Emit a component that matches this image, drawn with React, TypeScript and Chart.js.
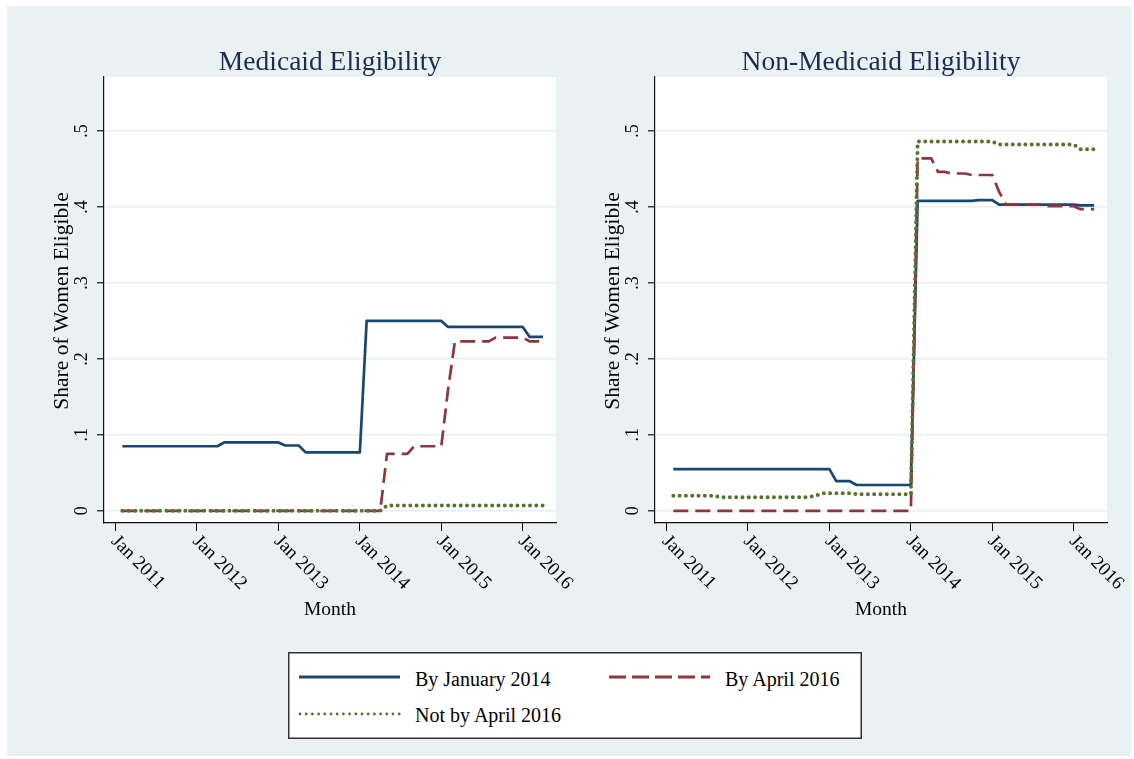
import React, { useEffect, useRef } from "react";
import { Chart, registerables } from "chart.js";

Chart.register(...registerables);

const SERIF = '"Liberation Serif", "Times New Roman", serif';

// Months are counted from Jan 2011 (= 0); the series start in Feb 2011.
const firstMonth = 1;

const xTickValues = [0, 12, 24, 36, 48, 60];
const xTickLabels = ["Jan 2011", "Jan 2012", "Jan 2013", "Jan 2014", "Jan 2015", "Jan 2016"];
const yTickValues = [0, 0.1, 0.2, 0.3, 0.4, 0.5];
const yTickLabels = ["0", ".1", ".2", ".3", ".4", ".5"];

const seriesNames = ["By January 2014", "By April 2016", "Not by April 2016"];
const panelTitles = ["Medicaid Eligibility", "Non-Medicaid Eligibility"];

// Medicaid eligibility, Feb 2011 - Apr 2016 (one value per month)
const medicaidByJan2014 = [
  0.085, 0.085, 0.085, 0.085, 0.085, 0.085, 0.085, 0.085, 0.085, 0.085, 0.085,
  0.085, 0.085, 0.085, 0.085, 0.09, 0.09, 0.09, 0.09, 0.09, 0.09, 0.09, 0.09,
  0.09, 0.086, 0.086, 0.086, 0.077, 0.077, 0.077, 0.077, 0.077, 0.077, 0.077, 0.077,
  0.077, 0.25, 0.25, 0.25, 0.25, 0.25, 0.25, 0.25, 0.25, 0.25, 0.25, 0.25,
  0.25, 0.242, 0.242, 0.242, 0.242, 0.242, 0.242, 0.242, 0.242, 0.242, 0.242, 0.242,
  0.242, 0.229, 0.229, 0.229,
];
const medicaidByApr2016 = [
  0, 0, 0, 0, 0, 0, 0, 0, 0, 0, 0,
  0, 0, 0, 0, 0, 0, 0, 0, 0, 0, 0, 0,
  0, 0, 0, 0, 0, 0, 0, 0, 0, 0, 0, 0,
  0, 0, 0, 0, 0.075, 0.075, 0.075, 0.075, 0.085, 0.085, 0.085, 0.085,
  0.085, 0.16, 0.223, 0.223, 0.223, 0.223, 0.223, 0.223, 0.228, 0.228, 0.228, 0.228,
  0.228, 0.223, 0.223, 0.223,
];
const medicaidNotByApr2016 = [
  0, 0, 0, 0, 0, 0, 0, 0, 0, 0, 0,
  0, 0, 0, 0, 0, 0, 0, 0, 0, 0, 0, 0,
  0, 0, 0, 0, 0, 0, 0, 0, 0, 0, 0, 0,
  0, 0, 0, 0, 0.007, 0.007, 0.007, 0.007, 0.007, 0.007, 0.007, 0.007,
  0.007, 0.007, 0.007, 0.007, 0.007, 0.007, 0.007, 0.007, 0.007, 0.007, 0.007, 0.007,
  0.007, 0.007, 0.007, 0.007,
];

// Non-Medicaid eligibility, Feb 2011 - Apr 2016
const nonMedicaidByJan2014 = [
  0.055, 0.055, 0.055, 0.055, 0.055, 0.055, 0.055, 0.055, 0.055, 0.055, 0.055,
  0.055, 0.055, 0.055, 0.055, 0.055, 0.055, 0.055, 0.055, 0.055, 0.055, 0.055, 0.055,
  0.055, 0.039, 0.039, 0.039, 0.034, 0.034, 0.034, 0.034, 0.034, 0.034, 0.034, 0.034,
  0.034, 0.408, 0.408, 0.408, 0.408, 0.408, 0.408, 0.408, 0.408, 0.408, 0.409, 0.409,
  0.409, 0.403, 0.403, 0.403, 0.403, 0.403, 0.403, 0.403, 0.403, 0.403, 0.403, 0.403,
  0.403, 0.402, 0.402, 0.402,
];
const nonMedicaidByApr2016 = [
  0, 0, 0, 0, 0, 0, 0, 0, 0, 0, 0,
  0, 0, 0, 0, 0, 0, 0, 0, 0, 0, 0, 0,
  0, 0, 0, 0, 0, 0, 0, 0, 0, 0, 0, 0,
  0, 0.464, 0.464, 0.464, 0.446, 0.446, 0.444, 0.444, 0.444, 0.442, 0.442, 0.442,
  0.442, 0.42, 0.403, 0.403, 0.403, 0.403, 0.403, 0.403, 0.401, 0.401, 0.401, 0.401,
  0.401, 0.397, 0.397, 0.397,
];
const nonMedicaidNotByApr2016 = [
  0.02, 0.02, 0.02, 0.02, 0.02, 0.02, 0.02, 0.018, 0.018, 0.018, 0.018,
  0.018, 0.018, 0.018, 0.018, 0.018, 0.018, 0.018, 0.018, 0.018, 0.018, 0.02, 0.023,
  0.023, 0.023, 0.023, 0.023, 0.022, 0.022, 0.022, 0.022, 0.022, 0.022, 0.022, 0.022,
  0.022, 0.486, 0.486, 0.486, 0.486, 0.486, 0.486, 0.486, 0.486, 0.486, 0.486, 0.486,
  0.486, 0.482, 0.482, 0.482, 0.482, 0.482, 0.482, 0.482, 0.482, 0.482, 0.482, 0.482,
  0.482, 0.476, 0.476, 0.476,
];

const BLUE = "#1a476f";
const RED = "#90353b";
const GREEN = "#55752f";
const BG = "#e9f1f3";
const GRID = "#e6eef1";
const TITLE_COLOR = "#1c2c52";

const X_MIN = -1.7;
const X_MAX = 64.9;
const Y_MIN = -0.016;
const Y_MAX = 0.571;

const CANVAS_W = 1134;
const CANVAS_H = 640;
const PLOT_TOP = 77;
const PLOT_BOTTOM = 523;

type Style = { color: string; width: number; dash: number[]; cap: CanvasLineCap; order: number };
const seriesStyles: Style[] = [
  { color: BLUE, width: 2.7, dash: [], cap: "butt", order: 3 },
  { color: RED, width: 2.7, dash: [15, 7], cap: "butt", order: 2 },
  { color: GREEN, width: 4, dash: [0, 6.3], cap: "round", order: 1 },
];

const decor = {
  id: "decor",
  beforeDraw(chart: any) {
    const { ctx, chartArea: a } = chart;
    ctx.save();
    ctx.fillStyle = "#ffffff";
    ctx.fillRect(a.left, a.top, a.right - a.left, a.bottom - a.top);
    ctx.restore();
  },
  afterDraw(chart: any, _args: any, opts: any) {
    const { ctx, chartArea: a, scales } = chart;
    const cx = (a.left + a.right) / 2;
    const cy = (a.top + a.bottom) / 2;
    ctx.save();
    ctx.textBaseline = "alphabetic";

    // panel title
    ctx.fillStyle = TITLE_COLOR;
    ctx.font = `27.5px ${SERIF}`;
    ctx.textAlign = "center";
    ctx.fillText(opts.title, cx, 70);

    // x axis title
    ctx.fillStyle = "#000";
    ctx.font = `19.5px ${SERIF}`;
    ctx.fillText("Month", cx, a.bottom + 92);

    // y axis title
    ctx.save();
    ctx.translate(a.left - 36, cy + 1);
    ctx.rotate(-Math.PI / 2);
    ctx.font = `21.5px ${SERIF}`;
    ctx.textAlign = "center";
    ctx.fillText("Share of Women Eligible", 0, 0);
    ctx.restore();

    // y tick labels, turned to read upwards
    ctx.font = `18px ${SERIF}`;
    for (const t of scales.y.ticks) {
      const i = yTickValues.indexOf(t.value);
      if (i < 0) continue;
      const y = scales.y.getPixelForValue(t.value);
      ctx.save();
      ctx.translate(a.left - 17, y);
      ctx.rotate(-Math.PI / 2);
      ctx.textAlign = "center";
      ctx.fillText(yTickLabels[i], 0, 0);
      ctx.restore();
    }

    // x tick labels, slanted downwards from each tick
    ctx.font = `19px ${SERIF}`;
    for (const t of scales.x.ticks) {
      const i = xTickValues.indexOf(t.value);
      if (i < 0) continue;
      const x = scales.x.getPixelForValue(t.value);
      ctx.save();
      ctx.translate(x - 5, a.bottom + 19);
      ctx.rotate(Math.PI / 4);
      ctx.textAlign = "left";
      ctx.fillText(xTickLabels[i], 0, 0);
      ctx.restore();
    }
    ctx.restore();
  },
};

function Panel(props: { title: string; series: number[][]; plotLeft: number; plotRight: number }) {
  const ref = useRef<HTMLCanvasElement | null>(null);

  useEffect(() => {
    const canvas = ref.current;
    if (!canvas) return;
    const { title, series, plotLeft, plotRight } = props;
    const chart = new Chart(canvas, {
      type: "line",
      data: {
        datasets: series.map((values, k) => {
          const st = seriesStyles[k];
          return {
            label: seriesNames[k],
            data: values.map((v, i) => ({ x: firstMonth + i, y: v })),
            borderColor: st.color,
            backgroundColor: st.color,
            borderWidth: st.width,
            borderDash: st.dash,
            borderCapStyle: st.cap,
            borderJoinStyle: "round",
            pointRadius: 0,
            pointHoverRadius: 0,
            tension: 0,
            fill: false,
            order: st.order,
          } as any;
        }),
      },
      options: {
        responsive: false,
        animation: false,
        devicePixelRatio: 1,
        events: [],
        layout: { padding: { left: 0, top: PLOT_TOP, right: CANVAS_W - plotRight, bottom: 0 } },
        scales: {
          x: {
            type: "linear",
            min: X_MIN,
            max: X_MAX,
            afterBuildTicks: (s: any) => {
              s.ticks = xTickValues.map((v) => ({ value: v }));
            },
            afterFit: (s: any) => {
              s.height = CANVAS_H - PLOT_BOTTOM;
            },
            ticks: { display: false },
            grid: {
              display: true,
              drawOnChartArea: false,
              drawTicks: true,
              tickLength: 8,
              tickColor: "#000",
              tickWidth: 1,
              lineWidth: 1,
            },
            border: { display: true, color: "#111", width: 1.2 },
          },
          y: {
            type: "linear",
            min: Y_MIN,
            max: Y_MAX,
            afterBuildTicks: (s: any) => {
              s.ticks = yTickValues.map((v) => ({ value: v }));
            },
            afterFit: (s: any) => {
              s.width = plotLeft;
            },
            ticks: { display: false },
            grid: {
              display: true,
              drawOnChartArea: true,
              drawTicks: true,
              color: GRID,
              lineWidth: 1.6,
              tickLength: 7,
              tickColor: "#000",
              tickWidth: 1.1,
            },
            border: { display: true, color: "#111", width: 1.2 },
          },
        },
        plugins: {
          legend: { display: false },
          tooltip: { enabled: false },
          decor: { title },
        } as any,
      },
      plugins: [decor],
    });
    return () => chart.destroy();
  }, []);

  return (
    <canvas
      ref={ref}
      width={CANVAS_W}
      height={CANVAS_H}
      style={{ position: "absolute", left: 0, top: 0, width: CANVAS_W, height: CANVAS_H }}
    />
  );
}

function Legend() {
  const font = { fontFamily: SERIF, fontSize: 20, fill: "#000" };
  return (
    <svg width={574} height={87} style={{ position: "absolute", left: 288, top: 652 }}>
      <rect x={0.75} y={0.75} width={572.5} height={85.5} fill="#fff" stroke="#333" strokeWidth={1.5} />
      <line x1={11} x2={112} y1={25} y2={25} stroke={BLUE} strokeWidth={3} />
      <text x={127} y={34} {...font}>{seriesNames[0]}</text>
      <line x1={321} x2={422} y1={25} y2={25} stroke={RED} strokeWidth={3} strokeDasharray="17 6" />
      <text x={437} y={34} {...font}>{seriesNames[1]}</text>
      <line
        x1={12}
        x2={112}
        y1={62}
        y2={62}
        stroke={GREEN}
        strokeWidth={2.8}
        strokeDasharray="0 6.2"
        strokeLinecap="round"
      />
      <text x={127} y={70} {...font}>{seriesNames[2]}</text>
    </svg>
  );
}

export default function App() {
  return (
    <div style={{ position: "absolute", left: 0, top: 0, width: 1134, height: 759, overflow: "hidden" }}>
      <div style={{ position: "absolute", left: 7, top: 6, width: 1124, height: 750, background: BG }} />
      <Panel
        title={panelTitles[0]}
        series={[medicaidByJan2014, medicaidByApr2016, medicaidNotByApr2016]}
        plotLeft={104}
        plotRight={556}
      />
      <Panel
        title={panelTitles[1]}
        series={[nonMedicaidByJan2014, nonMedicaidByApr2016, nonMedicaidNotByApr2016]}
        plotLeft={655}
        plotRight={1107}
      />
      <Legend />
    </div>
  );
}
